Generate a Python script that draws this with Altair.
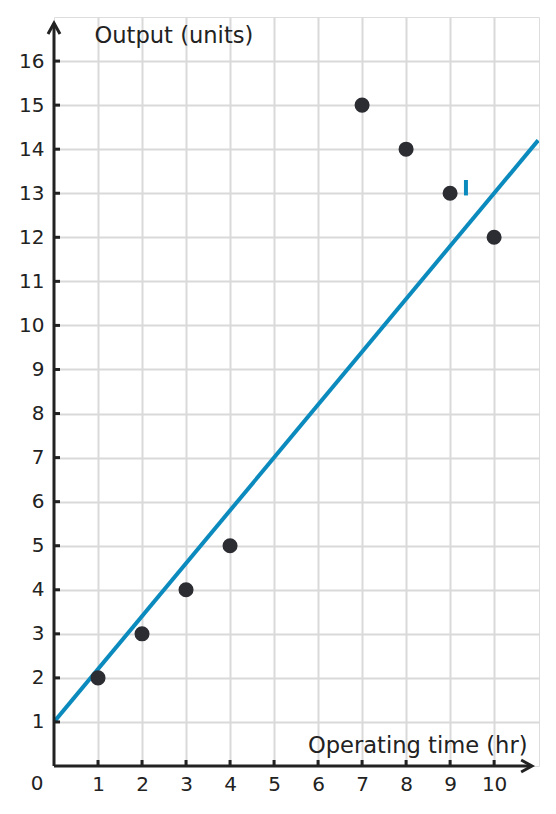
import altair as alt
import pandas as pd

# scatter data
pts_x = [1, 2, 3, 4, 7, 8, 9, 10]
pts_y = [2, 3, 4, 5, 15, 14, 13, 12]

# fitted line endpoints
line_x = [0, 11]
line_y = [1, 14.2]

# small blue marker near (9.35, 13)
mark_x = [9.36]
mark_y1 = [12.95]
mark_y2 = [13.3]

x_ticks = list(range(1, 11))
y_ticks = list(range(1, 17))

W, H = 485, 749
XDOM = [0, 11.02]
YDOM = [0, 17]
FONT = "DejaVu Sans"
AX = "#222222"
BLUE = "#0b8abd"

pts = pd.DataFrame({"x": pts_x, "y": pts_y})
line = pd.DataFrame({"x": line_x, "y": line_y})
mk = pd.DataFrame({"x": mark_x, "y": mark_y1, "y2": mark_y2})
xt = pd.DataFrame({"x": x_ticks})
yt = pd.DataFrame({"y": y_ticks})

xs = alt.Scale(domain=XDOM, nice=False, zero=False)
ys = alt.Scale(domain=YDOM, nice=False, zero=False)

xaxis = alt.Axis(values=x_ticks, grid=True, gridColor="#d9d9d9", gridWidth=2,
                 domain=False, ticks=False, labelFontSize=20, labelColor=AX,
                 labelFont=FONT, labelPadding=8, title="Operating time (hr)",
                 titleFont=FONT, titleFontSize=22.6, titleFontWeight="normal",
                 titleColor=AX, titleAlign="right", titleBaseline="alphabetic",
                 titleX=473, titleY=-14, titleAnchor="end")
yaxis = alt.Axis(values=y_ticks, grid=True, gridColor="#d9d9d9", gridWidth=2,
                 domain=False, ticks=False, labelFontSize=20, labelColor=AX,
                 labelFont=FONT, labelPadding=10, title="Output (units)",
                 titleFont=FONT, titleFontSize=22.6, titleFontWeight="normal",
                 titleColor=AX, titleAngle=0, titleAlign="left",
                 titleBaseline="alphabetic", titleX=40, titleY=25)

base_grid = alt.Chart(pts).mark_point(opacity=0).encode(
    x=alt.X("x:Q", scale=xs, axis=xaxis),
    y=alt.Y("y:Q", scale=ys, axis=yaxis),
)

fit = alt.Chart(line).mark_line(color=BLUE, strokeWidth=4, clip=True).encode(
    x=alt.X("x:Q", scale=xs), y=alt.Y("y:Q", scale=ys)
)

marker = alt.Chart(mk).mark_rule(color=BLUE, strokeWidth=4).encode(
    x=alt.X("x:Q", scale=xs), y=alt.Y("y:Q", scale=ys), y2="y2:Q"
)

dots = alt.Chart(pts).mark_circle(color="#2b2d33", opacity=1, size=227).encode(
    x=alt.X("x:Q", scale=xs), y=alt.Y("y:Q", scale=ys)
)

# axis lines
yline = alt.Chart(pd.DataFrame({"x": [0], "y": [0], "y2": [16.86]})).mark_rule(
    color=AX, strokeWidth=3).encode(
    x=alt.X("x:Q", scale=xs), y=alt.Y("y:Q", scale=ys), y2="y2:Q")
xline = alt.Chart(pd.DataFrame({"x": [0], "x2": [10.84], "y": [0]})).mark_rule(
    color=AX, strokeWidth=3).encode(
    x=alt.X("x:Q", scale=xs), x2="x2:Q", y=alt.Y("y:Q", scale=ys))

up_arrow = alt.Chart(pd.DataFrame({"x": [0], "y": [16.86]})).mark_point(
    shape="M-1,1.8L0,0L1,1.8", size=144, filled=False, color=AX,
    strokeWidth=3, opacity=1).encode(
    x=alt.X("x:Q", scale=xs), y=alt.Y("y:Q", scale=ys))
right_arrow = alt.Chart(pd.DataFrame({"x": [10.86], "y": [0]})).mark_point(
    shape="M-1.8,-1L0,0L-1.8,1", size=144, filled=False, color=AX,
    strokeWidth=3, opacity=1).encode(
    x=alt.X("x:Q", scale=xs), y=alt.Y("y:Q", scale=ys))

xtick_marks = alt.Chart(xt).mark_rule(color=AX, strokeWidth=3).encode(
    x=alt.X("x:Q", scale=xs), y=alt.value(H), y2=alt.value(H - 6))
ytick_marks = alt.Chart(yt).mark_rule(color=AX, strokeWidth=3).encode(
    y=alt.Y("y:Q", scale=ys), x=alt.value(0), x2=alt.value(6))

origin = alt.Chart(pd.DataFrame({"x": [0], "y": [0], "t": ["0"]})).mark_text(
    font=FONT, fontSize=20, color=AX, align="center", baseline="top",
    dx=-17, dy=8).encode(
    x=alt.X("x:Q", scale=xs), y=alt.Y("y:Q", scale=ys), text="t:N")

chart = alt.layer(
    base_grid, fit, marker, dots, yline, xline, up_arrow, right_arrow,
    xtick_marks, ytick_marks, origin
).properties(
    width=W, height=H,
    autosize=alt.AutoSizeParams(type="none"),
    padding={"left": 46, "top": 9, "right": 9, "bottom": 40},
).configure_view(stroke=None).configure(background="white")

chart.save("out.html", embed_options={"renderer": "svg", "actions": False})
